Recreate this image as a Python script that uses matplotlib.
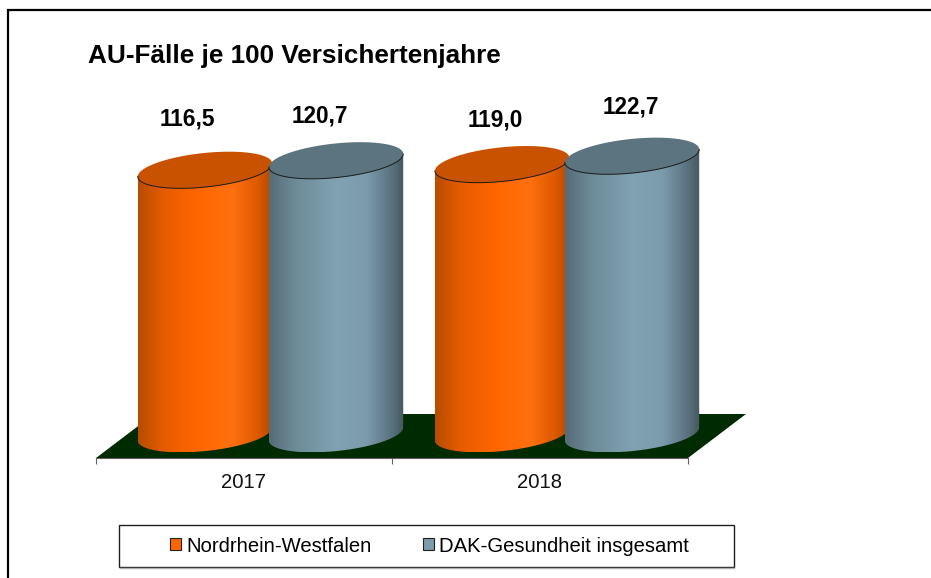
import numpy as np
import matplotlib
matplotlib.use("Agg")
import matplotlib.pyplot as plt
from matplotlib.colors import LinearSegmentedColormap
from matplotlib.patches import Patch, Polygon, Rectangle

plt.rcParams['font.family'] = ['Liberation Sans', 'DejaVu Sans']

years = ["2017", "2018"]
series_names = ["Nordrhein-Westfalen", "DAK-Gesundheit insgesamt"]
nrw = [116.5, 119.0]
dak = [120.7, 122.7]
title = "AU-Fälle je 100 Versichertenjahre"

W, H = 931, 578
fig = plt.figure(figsize=(W / 100, H / 100), dpi=100)

# pixel layer for frame and floor
bg = fig.add_axes([0, 0, 1, 1])
bg.set_xlim(0, W)
bg.set_ylim(H, 0)
bg.axis("off")
bg.plot([8, 8, W], [H, 10, 10], color="black", lw=1.6, solid_joinstyle="miter")
bg.add_patch(Polygon([(96, 458), (688, 458), (746, 414), (154, 414)], color="#002a00", lw=0))
bg.plot([120, 734], [568, 568], color="#b0b0b0", lw=1)
bg.add_patch(Rectangle((119, 525), 615, 42, fc="white", ec="#202020", lw=1))

# chart axes: x in category units, y in values
PX_X = 296.0    # pixels per category
PX_Y = 2.266    # pixels per value unit
BASE = 434      # pixel row of value 0
y_low = -(458 - BASE) / PX_Y
y_high = 140
ax_top = BASE - y_high * PX_Y
ax = fig.add_axes([96 / W, 1 - 458 / H, 592 / W, (458 - ax_top) / H])
ax.patch.set_alpha(0)
for s in ["top", "left", "right"]:
    ax.spines[s].set_visible(False)
ax.spines["bottom"].set_color("#606060")
ax.spines["bottom"].set_linewidth(0.8)
ax.set_yticks([])
ax.set_xticks([0, 1, 2])
ax.set_xticklabels([])
ax.tick_params(axis="x", length=4, width=0.8, color="#606060")
ax.set_xticks([0.5, 1.5], minor=True)
ax.set_xticklabels(years, minor=True, fontsize=14.6, color="#111111")
ax.tick_params(axis="x", which="minor", length=0, pad=11)

orange_cm = LinearSegmentedColormap.from_list("o", [(0, "#b84c00"), (0.2, "#e85c00"), (0.45, "#ff6600"),
                                                    (0.7, "#ff7010"), (0.88, "#e05a00"), (1, "#b04a00")])
blue_cm = LinearSegmentedColormap.from_list("b", [(0, "#566c78"), (0.2, "#6e8c98"), (0.5, "#80a2b2"),
                                                  (0.72, "#7c9cac"), (0.9, "#5c7482"), (1, "#46585f")])
grad = np.linspace(0, 1, 256).reshape(1, -1)


def ellipse(cx, cy, a=67.5, b=17.0, tilt=6.0):
    # tilted ellipse, size given in pixels, returned in data units
    t = np.linspace(0, 2 * np.pi, 181)[:-1]
    th = np.radians(tilt)
    dx = a * np.cos(t) * np.cos(th) - b * np.sin(t) * np.sin(th)
    dy = a * np.cos(t) * np.sin(th) + b * np.sin(t) * np.cos(th)
    return cx + dx / PX_X, cy + dy / PX_Y


def cylinder(cx, value, cmap, cap, z):
    xb, yb = ellipse(cx, 0)
    xt, yt = ellipse(cx, value)
    # silhouette: lower half of the base, then straight up to the top ellipse
    left, right = np.argmin(xb), np.argmax(xb)
    run = np.roll(np.arange(180), -left)[:((right - left) % 180) + 1]
    body_x = np.r_[xb[run], xt[right], xt[left]]
    body_y = np.r_[yb[run], yt[right], yt[left]]
    poly = Polygon(np.c_[body_x, body_y], closed=True, fc="none", ec="none")
    ax.add_patch(poly)
    im = ax.imshow(grad, cmap=cmap, aspect="auto", extent=[xb.min(), xb.max(), yb.min(), yt.max()],
                   zorder=z, interpolation="bilinear")
    im.set_clip_path(poly)
    im.set_clip_box(fig.bbox)
    ax.fill(xt, yt, color=cap, lw=0, zorder=z + 0.1, clip_on=False)
    # only the front rim of the cap has a dark line
    ax.plot(xt[run], yt[run], color="#1a1a1a", lw=0.7, zorder=z + 0.2, clip_on=False)


nrw_x = [0.368, 1.372]
dak_x = [0.811, 1.811]
for k in range(len(years)):
    cylinder(nrw_x[k], nrw[k], orange_cm, "#c85200", 3 + 2 * k)
    cylinder(dak_x[k], dak[k], blue_cm, "#5c7480", 4 + 2 * k)
ax.set_xlim(0, 2)
ax.set_ylim(y_low, y_high)

# value labels sit at hand placed pixel spots like in the original
label_px = [(187, 119), (320, 116), (495, 120), (631, 107)]
label_vals = [nrw[0], dak[0], nrw[1], dak[1]]
for (px, py), v in zip(label_px, label_vals):
    bg.text(px, py, f"{v:.1f}".replace(".", ","), ha="center", va="center", fontsize=16.3,
            fontweight="bold", color="black")

bg.text(88, 56, title, ha="left", va="center", fontsize=18.85, fontweight="bold", color="black")

handles = [Patch(fc="#ff6600", ec="#202020", lw=0.8), Patch(fc="#7c9cac", ec="#202020", lw=0.8)]
fig.legend(handles, series_names, loc="center", bbox_to_anchor=(429.5 / W, 1 - 546 / H), ncol=2,
           frameon=False, fontsize=14.6, handlelength=0.55, handleheight=0.55, handletextpad=0.25,
           columnspacing=2.5)

fig.savefig("out.png", dpi=100)
